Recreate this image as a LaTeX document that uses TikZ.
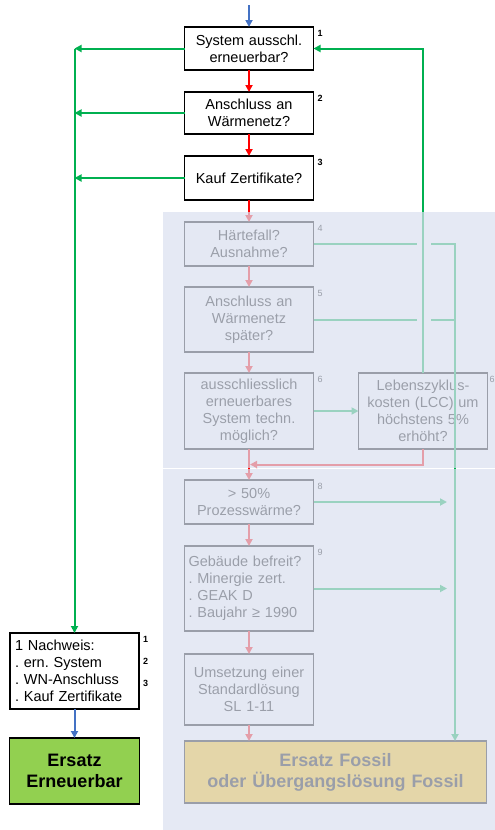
\documentclass[tikz,border=0pt]{standalone}
\usepackage{fontspec}
\setmainfont{Liberation Sans}
\usetikzlibrary{arrows.meta,positioning,calc}
\definecolor{Grn}{HTML}{00B050}
\definecolor{Rd}{HTML}{FF0000}
\definecolor{Blu}{HTML}{4472C4}
\definecolor{Leaf}{HTML}{92D050}
\definecolor{Gold}{HTML}{FFC000}
\definecolor{Veil}{RGB}{218,224,239}
\tikzset{
 qbox/.style={draw=black,line width=1.4pt,fill=white,align=center,text width=121pt,inner sep=4pt,outer sep=0pt,font=\fontsize{14.5}{17}\selectfont\frenchspacing},
 lbox/.style={qbox,align=left},
 endbox/.style={qbox,font=\fontsize{18}{21}\selectfont\bfseries},
 num/.style={anchor=north west,inner sep=0pt,xshift=4pt,yshift=-3pt,font=\fontsize{9}{10}\selectfont\bfseries},
 numf/.style={num,font=\fontsize{9}{10}\selectfont},
 arr/.style={-{Triangle[length=7pt,width=7pt]},line width=2pt},
 garr/.style={arr,draw=Grn},
 gline/.style={line width=2pt,draw=Grn},
 rarr/.style={arr,draw=Rd},
 barr/.style={arr,draw=Blu},
 veil/.style={fill=Veil,opacity=.71}
}
\begin{document}
\begin{tikzpicture}[x=1pt,y=1pt]
\useasboundingbox (0,0) rectangle (495,-830);
% main column
\node[qbox,minimum height=43pt] (box1) at (249,-48.5) {System ausschl.\\erneuerbar?};
\node[qbox,minimum height=42pt,below=22pt of box1] (box2) {Anschluss an\\Wärmenetz?};
\node[qbox,minimum height=44pt,below=22pt of box2] (box3) {Kauf Zertifikate?};
\node[qbox,minimum height=44pt,below=22pt of box3] (box4) {Härtefall?\\Ausnahme?};
\node[qbox,minimum height=65pt,below=21pt of box4] (box5) {Anschluss an\\Wärmenetz\\später?};
\node[qbox,minimum height=76pt,below=21pt of box5] (box6) {ausschliesslich\\erneuerbares\\System techn.\\möglich?};
\node[qbox,minimum height=76pt,right=45pt of box6] (lcc) {Lebenszyklus-\\kosten (LCC) um\\höchstens 5\%\\erhöht?};
\node[qbox,minimum height=44pt,below=31pt of box6] (box8) {> 50\%\\Prozesswärme?};
\node[lbox,minimum height=85pt,below=22pt of box8] (box9) {Gebäude befreit?\\. Minergie zert.\\. GEAK D\\. Baujahr ≥ 1990};
\node[qbox,minimum height=71pt,below=23pt of box9] (box10) {Umsetzung einer\\Standardlösung\\SL 1-11};
\node[endbox,fill=Gold,text width=294pt,minimum height=62pt,below=16pt of box10.south west,anchor=north west] (fossil) {Ersatz Fossil\\oder Übergangslösung Fossil};
% left column
\node[lbox,text width=119pt,inner sep=5pt,minimum height=76pt] (nachweis) at (74.5,-671) {1 Nachweis:\\. ern. System\\. WN-Anschluss\\. Kauf Zertifikate};
\node[endbox,fill=Leaf,text width=122pt,minimum height=66pt,below=29pt of nachweis] (erneuerbar) {Ersatz\\Erneuerbar};
% numbers
\node[num] (n1) at (box1.north east) {1};
\node[num] (n2) at (box2.north east) {2};
\node[num] (n3) at (box3.north east) {3};
\node[numf] (n4) at (box4.north east) {4};
\node[numf] (n5) at (box5.north east) {5};
\node[numf] (n6) at (box6.north east) {6};
\node[numf,xshift=-2pt] (n7) at (lcc.north east) {6};
\node[numf] (n8) at (box8.north east) {8};
\node[numf] (n9) at (box9.north east) {9};
\node[num] (m1) at (nachweis.north east) {1};
\node[num] (m2) at ($(nachweis.north east)+(0,-22)$) {2};
\node[num] (m3) at ($(nachweis.north east)+(0,-44)$) {3};
\coordinate (entry) at (249,-5);
\coordinate (rail) at (455,0);
% connectors
\draw[barr] (entry) -- (box1.north);
\draw[rarr] (box1) -- (box2);
\draw[rarr] (box2) -- (box3);
\draw[rarr] (box3) -- (box4);
\draw[rarr] (box4) -- (box5);
\draw[rarr] (box5) -- (box6);
\draw[rarr] (box6) -- (box8);
\draw[rarr] (box8) -- (box9);
\draw[rarr] (box9) -- (box10);
\draw[rarr] (box10.south) -- (box10.south |- fossil.north);
\draw[rarr,shorten >=1pt] (lcc.south) |- ($(box6.south)!.5!(box8.north)$);
\foreach \b in {box1,box2,box3}
  \draw[garr] (\b.west) -- (\b.west -| nachweis.north);
\draw[garr] (box1.west -| nachweis.north) -- (nachweis.north);
\draw[garr] (lcc.north) |- (box1.east);
\draw[garr] (box6) -- (lcc);
\draw[gline] (box4.east) -- ($(box4.east -| lcc.north)+(-6,0)$);
\draw[gline] (box5.east) -- ($(box5.east -| lcc.north)+(-6,0)$);
\draw[gline] ($(box5.east -| lcc.north)+(8,0)$) -- (box5.east -| rail);
\draw[garr] ($(box4.east -| lcc.north)+(8,0)$) -- (box4.east -| rail) -- (fossil.north -| rail);
\draw[garr,shorten >=8pt] (box8.east) -- (box8.east -| rail);
\draw[garr,shorten >=8pt] (box9.east) -- (box9.east -| rail);
\draw[barr] (nachweis) -- (erneuerbar);
% faded panel
\fill[veil] (163,-212) rectangle (495,-467.5);
\fill[veil] (163,-468.5) rectangle (495,-830);
\end{tikzpicture}
\end{document}
